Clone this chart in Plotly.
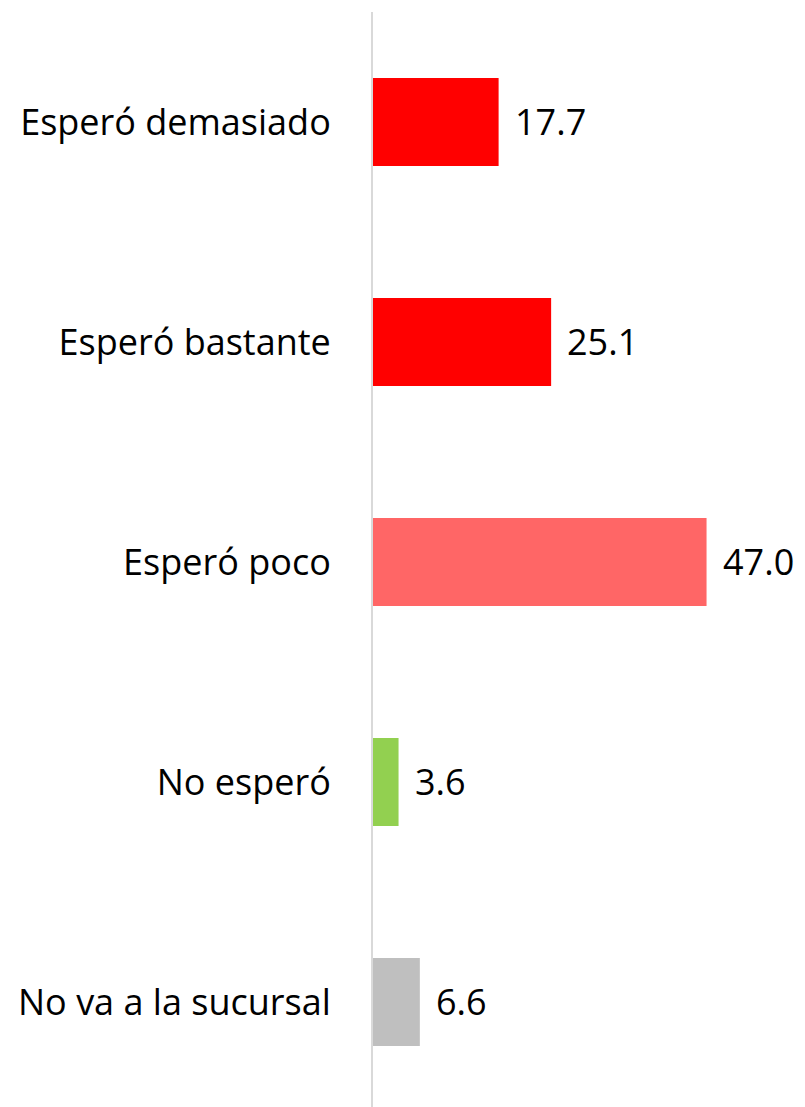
import plotly.graph_objects as go

categorias = ['Esperó demasiado', 'Esperó bastante', 'Esperó poco', 'No esperó', 'No va a la sucursal']
valores = [17.7, 25.1, 47.0, 3.6, 6.6]
colores = ['#FF0000', '#FF0000', '#FF6666', '#92D050', '#BFBFBF']

fuente = dict(family='Open Sans', size=36, color='#000000')

fig = go.Figure()
fig.add_trace(go.Bar(
    x=valores, y=categorias, orientation='h',
    marker=dict(color=colores, line=dict(width=0)),
    width=0.4, hoverinfo='skip'))

for c, v in zip(categorias, valores):
    fig.add_annotation(x=v, y=c, text=f'{v:.1f}', showarrow=False,
                       xanchor='left', yanchor='middle', xshift=14,
                       font=fuente)

# the page adds an 8px body margin, so the margins are shifted by that much
fig.update_layout(
    width=805, height=1107,
    margin=dict(l=365, r=0, t=4, b=0),
    paper_bgcolor='white', plot_bgcolor='white',
    showlegend=False,
    font=fuente,
    xaxis=dict(range=[0, 62.0], visible=False, showgrid=False, zeroline=False),
    yaxis=dict(type='category', range=[4.514, -0.5], showgrid=False, zeroline=False,
               showline=True, linecolor='#D9D9D9', linewidth=2,
               ticks='', ticklabelstandoff=33, tickfont=fuente),
)

fig.write_html('out.html')
